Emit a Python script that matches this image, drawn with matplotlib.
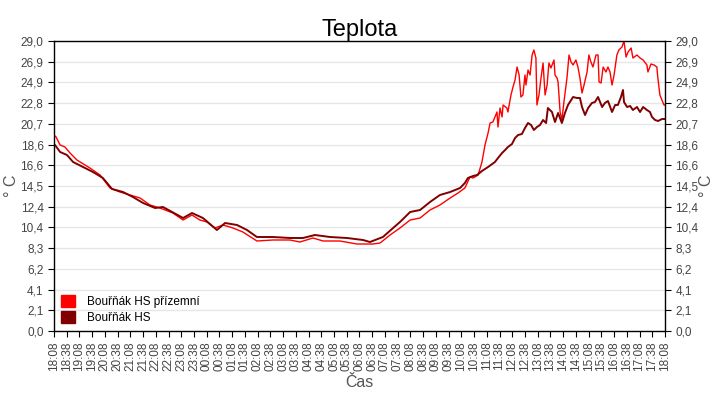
import matplotlib
matplotlib.use("Agg")
import matplotlib.pyplot as plt
from matplotlib.patches import Patch
import numpy as np

plt.rcParams['font.family'] = ['Liberation Sans', 'DejaVu Sans']

# hours since 18:08
dark_t = [0.00, 0.04, 0.24, 0.51, 0.75, 1.14, 1.53, 1.92, 2.28, 2.71, 3.10, 3.50, 3.97, 4.28,
          4.64, 5.07, 5.42, 5.85, 6.40, 6.72, 7.19, 7.58, 7.97, 8.60, 9.27, 9.78, 10.25, 10.84,
          11.51, 12.14, 12.41, 12.92, 13.32, 13.59, 13.99, 14.38, 14.77, 15.16, 15.56, 15.95,
          16.14, 16.26, 16.46, 16.62, 16.81, 17.05, 17.32, 17.44, 17.60, 17.72, 17.83, 17.99,
          18.11, 18.23, 18.38, 18.50, 18.62, 18.74, 18.85, 18.97, 19.09, 19.21, 19.33, 19.40,
          19.56, 19.68, 19.80, 19.95, 20.07, 20.19, 20.39, 20.54, 20.66, 20.74, 20.86, 20.98,
          21.13, 21.25, 21.37, 21.53, 21.64, 21.76, 21.92, 22.04, 22.15, 22.27, 22.35, 22.39,
          22.51, 22.63, 22.74, 22.90, 23.02, 23.14, 23.29, 23.41, 23.49, 23.61, 23.73, 23.88, 24.00]
dark_v = [18.6, 18.6, 17.9, 17.6, 16.9, 16.4, 15.9, 15.3, 14.2, 13.9, 13.4, 12.8, 12.3, 12.4,
          11.9, 11.3, 11.8, 11.3, 10.1, 10.8, 10.6, 10.1, 9.4, 9.4, 9.3, 9.3, 9.6, 9.4,
          9.3, 9.1, 8.9, 9.4, 10.3, 10.9, 11.9, 12.1, 12.9, 13.6, 13.9, 14.3,
          14.8, 15.3, 15.5, 15.6, 16.0, 16.4, 16.9, 17.3, 17.8, 18.1, 18.4, 18.7,
          19.3, 19.6, 19.7, 20.3, 20.8, 20.6, 20.1, 20.4, 20.6, 21.1, 20.8, 22.3,
          21.9, 20.9, 21.8, 20.8, 21.8, 22.6, 23.4, 23.3, 23.3, 22.4, 21.6, 22.3,
          22.8, 22.9, 23.4, 22.4, 22.8, 23.0, 21.9, 22.6, 22.6, 23.4, 24.1, 22.9,
          22.4, 22.5, 22.1, 22.4, 21.9, 22.4, 22.1, 21.9, 21.4, 21.1, 21.0, 21.2, 21.2]

red_t = [0.00, 0.08, 0.24, 0.43, 0.63, 0.90, 1.41, 1.81, 2.20, 2.59, 2.99, 3.38, 3.77, 4.16,
         4.67, 5.07, 5.42, 5.73, 6.01, 6.32, 6.64, 7.03, 7.42, 7.97, 8.60, 9.27, 9.66, 10.17,
         10.57, 11.23, 11.90, 12.53, 12.81, 13.20, 13.59, 13.99, 14.38, 14.77, 15.16, 15.56,
         15.87, 16.14, 16.34, 16.46, 16.66, 16.81, 16.93, 17.05, 17.13, 17.24, 17.32, 17.40,
         17.44, 17.52, 17.60, 17.64, 17.79, 17.83, 17.95, 18.03, 18.11, 18.19, 18.27, 18.34,
         18.42, 18.50, 18.54, 18.62, 18.70, 18.78, 18.85, 18.93, 18.97, 19.05, 19.13, 19.21,
         19.29, 19.37, 19.44, 19.52, 19.64, 19.68, 19.76, 19.80, 19.88, 19.95, 20.03, 20.15,
         20.23, 20.31, 20.39, 20.50, 20.58, 20.66, 20.74, 20.82, 20.94, 21.01, 21.09, 21.17,
         21.29, 21.37, 21.41, 21.49, 21.57, 21.68, 21.76, 21.84, 21.92, 22.00, 22.11, 22.19,
         22.31, 22.39, 22.47, 22.55, 22.67, 22.74, 22.90, 23.02, 23.14, 23.29, 23.33, 23.45,
         23.57, 23.68, 23.72, 23.80, 23.88, 23.96, 24.00]
red_v = [19.6, 19.4, 18.6, 18.4, 17.8, 17.1, 16.3, 15.6, 14.3, 13.9, 13.6, 13.3, 12.6, 12.3,
         11.8, 11.1, 11.6, 11.1, 10.9, 10.3, 10.6, 10.3, 9.9, 9.0, 9.1, 9.1, 8.9, 9.3,
         9.0, 9.0, 8.7, 8.7, 8.8, 9.6, 10.3, 11.1, 11.3, 12.1, 12.6, 13.3,
         13.8, 14.3, 15.4, 15.3, 15.6, 16.9, 18.6, 19.8, 20.8, 20.9, 21.4, 21.9,
         20.4, 22.3, 21.4, 22.6, 22.3, 21.9, 23.6, 24.4, 25.1, 26.4, 25.6, 23.4,
         23.6, 25.6, 24.6, 26.1, 25.6, 27.6, 28.1, 27.3, 22.6, 23.6, 25.3, 26.8,
         23.6, 24.6, 26.8, 26.3, 27.1, 25.6, 25.3, 24.9, 21.9, 21.1, 22.9, 25.3,
         27.6, 26.9, 26.6, 27.1, 26.4, 25.3, 23.8, 24.6, 25.9, 27.6, 26.9, 26.4,
         27.6, 27.6, 24.9, 24.8, 26.4, 25.9, 26.4, 25.9, 24.6, 25.6, 27.6, 28.1,
         28.4, 29.0, 27.4, 27.9, 28.3, 27.3, 27.6, 27.3, 27.1, 26.6, 25.9, 26.7,
         26.6, 26.4, 25.3, 23.6, 23.1, 22.6, 22.6]

series_names = ["Bouřňák HS přízemní", "Bouřňák HS"]
series_colors = ["#ff0000", "#800000"]

y_max = 29.0
y_ticks = [y_max * i / 14 for i in range(15)]
start_min = 18 * 60 + 8
x_ticks = [i * 0.5 for i in range(49)]
x_labels = ["%02d:%02d" % (((start_min + 30 * i) // 60) % 24, (start_min + 30 * i) % 60)
            for i in range(49)]

fig = plt.figure(figsize=(7.2, 4.0), dpi=100)
ax = fig.add_axes([0.075, 0.1725, 0.8486, 0.725])

ax.plot(red_t, red_v, color=series_colors[0], lw=1.0)
ax.plot(dark_t, dark_v, color=series_colors[1], lw=1.4)

ax.set_xlim(0, 24)
ax.set_ylim(0, y_max)
ax.set_yticks(y_ticks)
ax.set_yticklabels([("%.1f" % v).replace(".", ",") for v in y_ticks])
ax.set_xticks(x_ticks)
ax.set_xticklabels(x_labels, rotation=90)
ax.grid(axis="y", color="#e6e6e6", lw=1)
ax.set_axisbelow(True)
ax.tick_params(axis="both", labelsize=8.5, labelcolor="#444444", length=4, direction="out")
ax.tick_params(axis="y", right=True, labelright=True)
for s in ax.spines.values():
    s.set_color("black")
    s.set_linewidth(1.0)

ax.set_title("Teplota", fontsize=17, pad=3)
ax.set_xlabel("Čas", fontsize=11.5, color="#555555", labelpad=3)
# y labels on both sides at fixed figure positions
fig.text(0.016, 0.535, "° C", rotation=90, fontsize=11.5, color="#555555",
         ha="center", va="center")
fig.text(0.981, 0.535, "° C", rotation=90, fontsize=11.5, color="#555555",
         ha="center", va="center")

handles = [Patch(color=c) for c in series_colors]
ax.legend(handles, series_names, loc="lower left", frameon=False, fontsize=8.5,
          handlelength=1.2, handleheight=1.2, handletextpad=1.0, labelspacing=0.25,
          borderaxespad=0.2, bbox_to_anchor=(0.0, 0.0))

fig.savefig("out.png", dpi=100)
